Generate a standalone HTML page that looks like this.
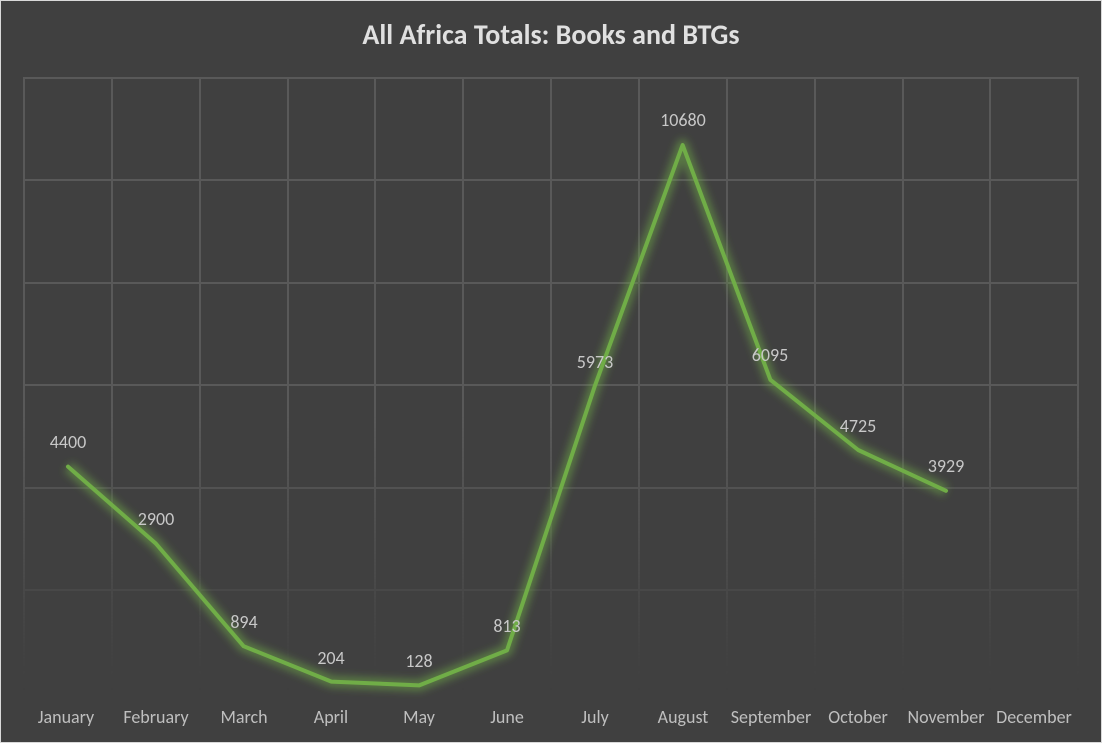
<!DOCTYPE html>
<html><head><meta charset="utf-8"><style>
html,body{margin:0;padding:0;background:#d9d9d9;}
svg{display:block;}
</style></head><body>
<svg width="1102" height="743" xmlns="http://www.w3.org/2000/svg" font-family="Calibri, Carlito, 'Liberation Sans', sans-serif">
<defs>
<linearGradient id="fade" x1="0" y1="77" x2="0" y2="692" gradientUnits="userSpaceOnUse">
<stop offset="0" stop-color="#fff" stop-opacity="1"/>
<stop offset="0.55" stop-color="#fff" stop-opacity="1"/>
<stop offset="0.95" stop-color="#fff" stop-opacity="0.05"/>
<stop offset="1" stop-color="#fff" stop-opacity="0"/>
</linearGradient>
<mask id="m"><rect x="0" y="0" width="1102" height="743" fill="url(#fade)"/></mask>
<filter id="glow" x="-20%" y="-20%" width="140%" height="140%"><feGaussianBlur stdDeviation="4"/></filter>
</defs>
<rect x="1" y="1" width="1100" height="741" fill="#404040"/>
<text x="551" y="44" text-anchor="middle" font-size="28" font-weight="bold" fill="#e0e0e0">All Africa Totals: Books and BTGs</text>
<g mask="url(#m)" stroke="#595959" stroke-width="2" fill="none">
<path d="M24 77V692M112 77V692M200 77V692M288 77V692M375 77V692M463 77V692M551 77V692M639 77V692M727 77V692M815 77V692M903 77V692M990 77V692M1078 77V692"/>
<path d="M24 78H1078M24 180H1078M24 283H1078M24 385H1078M24 488H1078M24 590H1078"/>
</g>
<polyline points="68,466.6 155.8,543.5 243.6,646.2 331.4,681.6 419.2,685.4 507,650.4 594.8,386.1 682.6,145 770.4,379.8 858.2,450 946,490.8" fill="none" stroke="#70ad47" stroke-width="12" stroke-opacity="0.5" filter="url(#glow)" stroke-linejoin="round"/>
<polyline points="68,466.6 155.8,543.5 243.6,646.2 331.4,681.6 419.2,685.4 507,650.4 594.8,386.1 682.6,145 770.4,379.8 858.2,450 946,490.8" fill="none" stroke="#70ad47" stroke-width="4" stroke-linejoin="round" stroke-linecap="round"/>
<g font-size="18" fill="#c8c8c8" text-anchor="middle">
<text x="68" y="448">4400</text>
<text x="156" y="525">2900</text>
<text x="244" y="628">894</text>
<text x="331" y="664">204</text>
<text x="419" y="667">128</text>
<text x="507" y="632">813</text>
<text x="595" y="368">5973</text>
<text x="683" y="126">10680</text>
<text x="770" y="361">6095</text>
<text x="858" y="432">4725</text>
<text x="946" y="472">3929</text>
</g>
<g font-size="18" fill="#bfbfbf" text-anchor="middle">
<text x="66" y="723">January</text>
<text x="156" y="723">February</text>
<text x="244" y="723">March</text>
<text x="331" y="723">April</text>
<text x="419" y="723">May</text>
<text x="507" y="723">June</text>
<text x="595" y="723">July</text>
<text x="683" y="723">August</text>
<text x="771" y="723">September</text>
<text x="858" y="723">October</text>
<text x="946" y="723">November</text>
<text x="1034" y="723">December</text>
</g>
</svg>
</body></html>
